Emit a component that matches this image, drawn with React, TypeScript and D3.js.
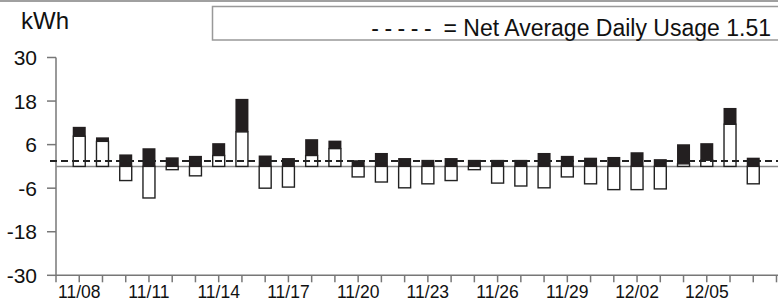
import * as d3 from "d3";
import { useEffect, useRef } from "react";

// days shown on the chart
const days = [
  "11/08", "11/09", "11/10", "11/11", "11/12", "11/13", "11/14", "11/15", "11/16", "11/17",
  "11/18", "11/19", "11/20", "11/21", "11/22", "11/23", "11/24", "11/25", "11/26", "11/27",
  "11/28", "11/29", "11/30", "12/01", "12/02", "12/03", "12/04", "12/05", "12/06", "12/07",
];

// white bars (signed kWh)
const whiteVals = [
  8.3, 6.9, -3.9, -8.7, -0.9, -2.6, 3.0, 9.5, -6.0, -5.7,
  3.0, 4.9, -2.9, -4.3, -5.9, -4.8, -3.9, -0.9, -4.6, -5.4,
  -5.9, -2.9, -4.8, -6.4, -6.4, -6.2, 0.7, 1.7, 11.6, -4.8,
];

// black bars (kWh, stacked on top of a positive white bar)
const blackVals = [
  2.6, 1.1, 3.3, 5.0, 2.5, 2.9, 3.4, 9.1, 3.0, 2.3,
  4.5, 2.2, 1.7, 3.7, 2.3, 1.8, 2.3, 1.8, 1.8, 1.8,
  3.7, 2.9, 2.4, 2.6, 3.9, 2.0, 5.4, 4.7, 4.5, 2.4,
];

const yTicks = [30, 18, 6, -6, -18, -30];
const netAverage = 1.51;

const width = 778;
const height = 300;

export default function App() {
  const svgRef = useRef<SVGSVGElement | null>(null);

  useEffect(() => {
    if (!svgRef.current) return;
    const svg = d3.select(svgRef.current);
    svg.selectAll("*").remove();

    const font = "'Liberation Sans', Arial, sans-serif";

    const x = d3.scaleLinear().domain([-1, days.length]).range([56, 776.5]);
    const y = d3.scaleLinear().domain([-30, 30]).range([275.3, 57.5]);
    const barW = 12;

    // top border
    svg.append("line")
      .attr("x1", 0).attr("x2", width).attr("y1", 1).attr("y2", 1)
      .attr("stroke", "#a0a0a0").attr("stroke-width", 2);

    // legend box
    svg.append("rect")
      .attr("x", 212.5).attr("y", 6.5).attr("width", 600).attr("height", 33.5)
      .attr("fill", "#fff").attr("stroke", "#999").attr("stroke-width", 1.5);

    const leg = svg.append("text")
      .attr("x", 771).attr("y", 36)
      .attr("text-anchor", "end")
      .attr("font-family", font)
      .attr("font-size", 23)
      .attr("fill", "#111");
    leg.append("tspan").attr("letter-spacing", 5.5).text("-----");
    leg.append("tspan").text(" = Net Average Daily Usage " + netAverage.toFixed(2));

    // unit label
    svg.append("text")
      .attr("x", 21).attr("y", 29)
      .attr("font-family", font).attr("font-size", 24).attr("fill", "#111")
      .text("kWh");

    // y axis
    svg.append("line")
      .attr("x1", 56).attr("x2", 56).attr("y1", y(30)).attr("y2", y(-30))
      .attr("stroke", "#777").attr("stroke-width", 1.5);

    const yt = svg.append("g").selectAll("g").data(yTicks).join("g");
    yt.append("line")
      .attr("x1", 47).attr("x2", 56)
      .attr("y1", (d) => y(d)).attr("y2", (d) => y(d))
      .attr("stroke", "#777").attr("stroke-width", 1.5);
    yt.append("text")
      .attr("x", 37).attr("y", (d) => y(d) + 7.5)
      .attr("text-anchor", "end")
      .attr("font-family", font).attr("font-size", 21).attr("fill", "#111")
      .text((d) => d);

    // x axis
    svg.append("line")
      .attr("x1", 56).attr("x2", width).attr("y1", y(-30)).attr("y2", y(-30))
      .attr("stroke", "#777").attr("stroke-width", 1.5);

    const xTickIdx = d3.range(-1, days.length + 1);
    svg.append("g").selectAll("line").data(xTickIdx).join("line")
      .attr("x1", (d) => x(d)).attr("x2", (d) => x(d))
      .attr("y1", y(-30)).attr("y2", y(-30) + 7)
      .attr("stroke", "#777").attr("stroke-width", 1.5);

    svg.append("g").selectAll("text")
      .data(days.map((d, i) => ({ d, i })).filter((o) => o.i % 3 === 0))
      .join("text")
      .attr("x", (o) => x(o.i)).attr("y", 297.5)
      .attr("text-anchor", "middle")
      .attr("font-family", font).attr("font-size", 17.5).attr("fill", "#111")
      .text((o) => o.d);

    // zero line
    svg.append("line")
      .attr("x1", 56).attr("x2", width).attr("y1", y(0)).attr("y2", y(0))
      .attr("stroke", "#888").attr("stroke-width", 1.5);

    // bars
    const bars = svg.append("g").selectAll("g").data(days).join("g");
    bars.append("rect")
      .attr("x", (_, i) => x(i) - barW / 2)
      .attr("y", (_, i) => y(Math.max(0, whiteVals[i])))
      .attr("width", barW)
      .attr("height", (_, i) => Math.abs(y(whiteVals[i]) - y(0)))
      .attr("fill", "#fff").attr("stroke", "#222").attr("stroke-width", 1.4);
    bars.append("rect")
      .attr("x", (_, i) => x(i) - barW / 2 - 0.5)
      .attr("y", (_, i) => y(Math.max(0, whiteVals[i]) + blackVals[i]))
      .attr("width", barW + 1)
      .attr("height", (_, i) => y(0) - y(blackVals[i]))
      .attr("fill", "#231f20");

    // net average line
    svg.append("line")
      .attr("x1", 50).attr("x2", width).attr("y1", y(netAverage)).attr("y2", y(netAverage))
      .attr("stroke", "#222").attr("stroke-width", 2)
      .attr("stroke-dasharray", "7,4");
  }, []);

  return (
    <svg
      ref={svgRef}
      width={width}
      height={height}
      style={{ position: "absolute", left: 0, top: 0, background: "#fff" }}
    />
  );
}
